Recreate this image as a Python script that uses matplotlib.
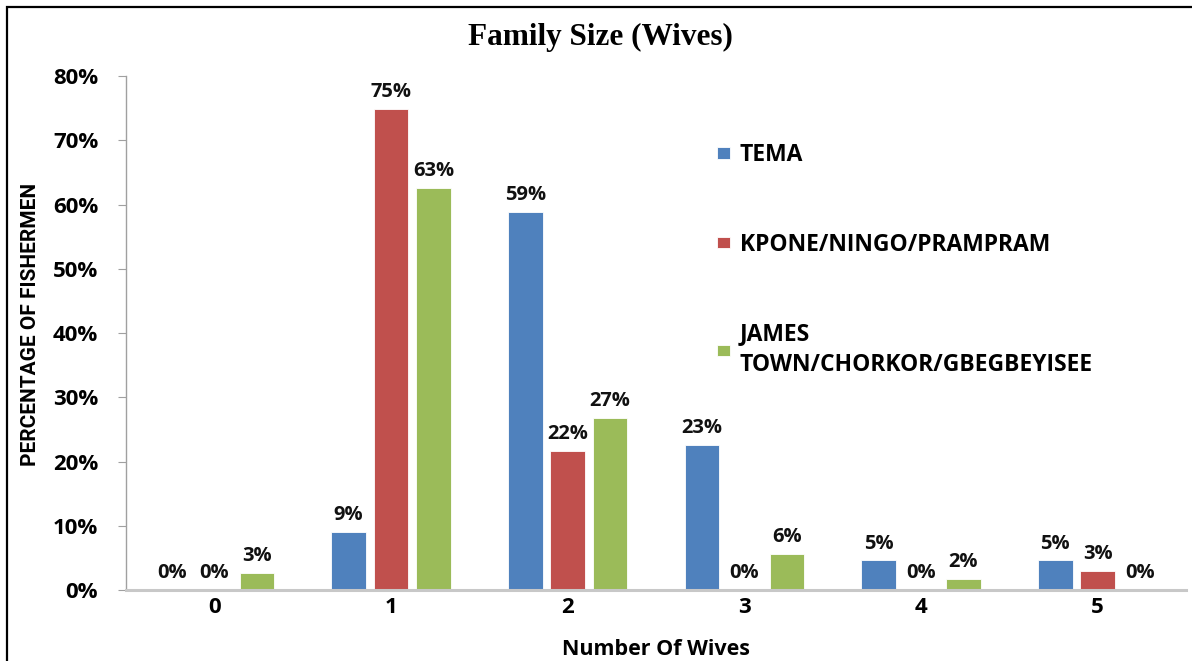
import numpy as np
import matplotlib.pyplot as plt
from matplotlib.patches import Rectangle

wives = ["0", "1", "2", "3", "4", "5"]
tema = [0.0, 9.0, 58.8, 22.6, 4.6, 4.6]
kpone = [0.0, 74.9, 21.6, 0.0, 0.0, 3.0]
james = [2.7, 62.6, 26.8, 5.6, 1.7, 0.0]

series = [
    ("TEMA", tema, "#4F81BD"),
    ("KPONE/NINGO/PRAMPRAM", kpone, "#C0504D"),
    ("JAMES\nTOWN/CHORKOR/GBEGBEYISEE", james, "#9BBB59"),
]

plt.rcParams['font.family'] = ['Open Sans', 'DejaVu Sans']

fig = plt.figure(figsize=(11.92, 6.61), dpi=100)
ax = fig.add_axes([0.1057, 0.1074, 0.8893, 0.7776])

x = np.arange(len(wives))
step = 0.24
width = 0.195
for i, (name, vals, col) in enumerate(series):
    bars = ax.bar(x + (i - 1) * step, vals, width, color=col, label=name,
                  edgecolor='white', linewidth=0.6)
    ax.bar_label(bars, labels=["%.0f%%" % v for v in vals], padding=5,
                 fontsize=14.5, fontweight='bold', color='#111111')

ax.set_xlim(-0.5, 5.5)
ax.set_ylim(0, 80)
ax.set_yticks(range(0, 81, 10))
ax.set_yticklabels(["%d%%" % t for t in range(0, 81, 10)], fontsize=16, fontweight='bold')
ax.set_xticks(x)
ax.set_xticklabels(wives, fontsize=16, fontweight='bold')
ax.tick_params(axis='x', length=0, pad=5)
ax.tick_params(axis='y', direction='out', length=6, color='#A0A0A0', pad=14)

for s in ['top', 'right']:
    ax.spines[s].set_visible(False)
ax.spines['left'].set_color('#A0A0A0')
ax.spines['left'].set_linewidth(1)
ax.spines['bottom'].set_color('#C8C8C8')
ax.spines['bottom'].set_linewidth(2.2)

ax.set_xlabel("Number Of Wives", fontsize=15.5, fontweight='bold', labelpad=15)
ax.set_ylabel("PERCENTAGE OF FISHERMEN", fontsize=15, fontweight='bold',
              family=['Roboto', 'DejaVu Sans'])
ax.yaxis.set_label_coords(-0.081, 0.516)

fig.text(0.504, 0.944, "Family Size (Wives)", ha='center', va='center',
         fontsize=22.5, fontweight='bold', family=['Liberation Serif', 'DejaVu Serif'])

leg = ax.legend(loc='upper left', bbox_to_anchor=(0.5575, 0.869), frameon=False,
                prop={'weight': 'bold', 'size': 16.5}, borderpad=0, borderaxespad=0,
                handlelength=0.55, handleheight=0.4, handletextpad=0.45,
                labelspacing=2.85)
leg.get_texts()[2].set_linespacing(1.4)

fig.patches.append(Rectangle((7 / 1192, -0.05), 1.2, 1 - 7 / 661 + 0.05,
                             transform=fig.transFigure, fill=False,
                             edgecolor='black', linewidth=1.6))

fig.savefig("out.png", dpi=100)
